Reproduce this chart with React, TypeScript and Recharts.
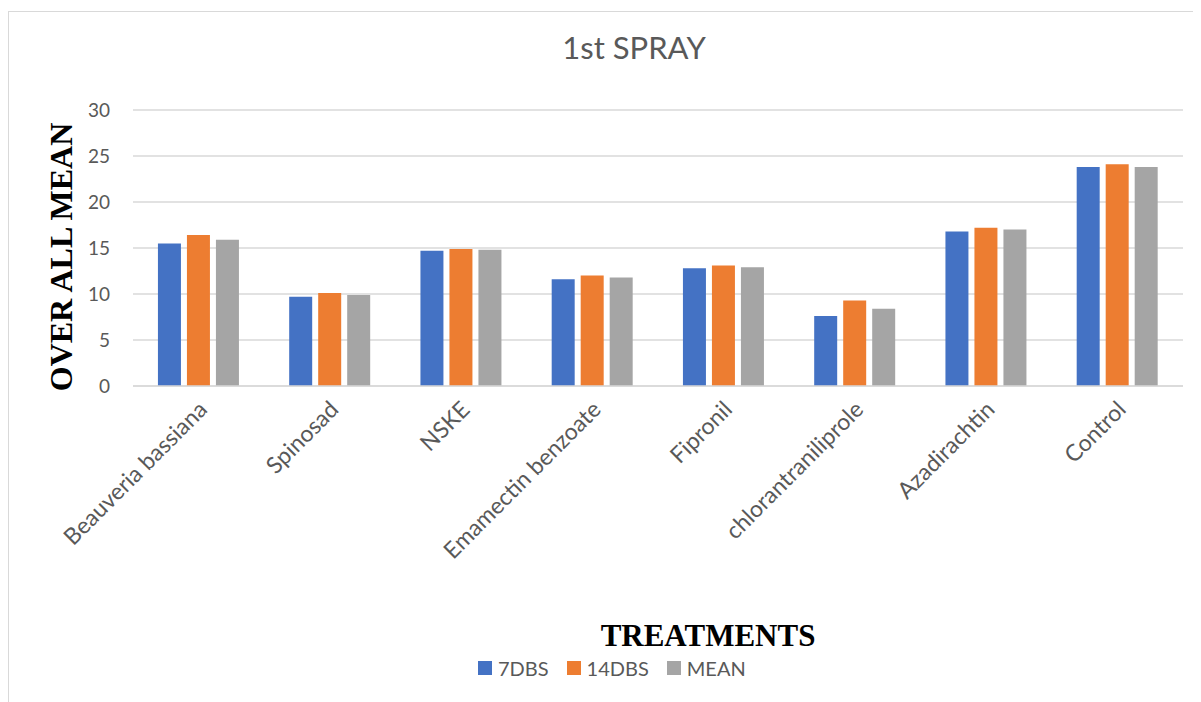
import React from 'react';
import {
  BarChart,
  Bar,
  XAxis,
  YAxis,
  CartesianGrid,
} from 'recharts';

const categories = [
  'Beauveria bassiana',
  'Spinosad',
  'NSKE',
  'Emamectin benzoate',
  'Fipronil',
  'chlorantraniliprole',
  'Azadirachtin',
  'Control',
];
const dbs7 = [15.5, 9.7, 14.7, 11.6, 12.8, 7.6, 16.8, 23.8];
const dbs14 = [16.4, 10.1, 14.9, 12.0, 13.1, 9.3, 17.2, 24.1];
const meanVals = [15.9, 9.9, 14.8, 11.8, 12.9, 8.4, 17.0, 23.8];
const yTicks = [0, 5, 10, 15, 20, 25, 30];
const seriesKeys = ['d7', 'd14', 'mean'];
const seriesNames = ['7DBS', '14DBS', 'MEAN'];
const seriesColors = ['#4472C4', '#ED7D31', '#A5A5A5'];

const data = categories.map((name, i) => ({
  name,
  d7: dbs7[i],
  d14: dbs14[i],
  mean: meanVals[i],
}));

const FONT = 'Lato, "Open Sans", sans-serif';
const SERIF = '"Liberation Serif", "DejaVu Serif", serif';

const CategoryTick = (props: any) => {
  const { x, y, payload } = props;
  const ax = x + 10;
  const ay = y + 25;
  return (
    <text
      x={ax}
      y={ay}
      textAnchor="end"
      transform={`rotate(-45, ${ax}, ${ay})`}
      fontSize={23}
      fontFamily={FONT}
      fill="#595959"
    >
      {payload.value}
    </text>
  );
};

const App: React.FC = () => {
  return (
    <div style={{ position: 'relative', width: 1193, height: 694 }}>
      {/* chart frame */}
      <div
        style={{
          position: 'absolute',
          left: 0,
          top: 3,
          width: 1200,
          height: 700,
          borderLeft: '1px solid #d9d9d9',
          borderTop: '1px solid #d9d9d9',
        }}
      />
      <BarChart
        width={1193}
        height={694}
        data={data}
        margin={{ top: 102, right: 18, left: 75, bottom: 256 }}
        barCategoryGap="19%"
        barGap={6}
      >
        <CartesianGrid vertical={false} stroke="#d9d9d9" strokeWidth={1.3} />
        <XAxis
          dataKey="name"
          interval={0}
          height={60}
          tickLine={false}
          tickSize={0}
          tickMargin={0}
          axisLine={{ stroke: '#d9d9d9', strokeWidth: 1.3 }}
          tick={<CategoryTick />}
        />
        <YAxis
          width={50}
          domain={[0, 30]}
          ticks={yTicks}
          axisLine={false}
          tickLine={false}
          tickSize={0}
          tickMargin={23}
          tick={{ fontSize: 19, fontFamily: FONT, fill: '#595959' }}
        />
        {seriesKeys.map((k, i) => (
          <Bar
            key={k}
            dataKey={k}
            name={seriesNames[i]}
            fill={seriesColors[i]}
            isAnimationActive={false}
          />
        ))}
      </BarChart>

      <svg
        width={1193}
        height={694}
        style={{ position: 'absolute', left: 0, top: 0, pointerEvents: 'none' }}
      >
        <text
          x={626}
          y={51}
          textAnchor="middle"
          fontSize={31}
          fontFamily={FONT}
          fill="#595959"
        >
          1st SPRAY
        </text>
        <text
          x={64}
          y={249}
          textAnchor="middle"
          transform="rotate(-90, 64, 249)"
          fontSize={32}
          fontWeight="bold"
          fontFamily={SERIF}
          fill="#000"
        >
          OVER ALL MEAN
        </text>
        <text
          x={700}
          y={638}
          textAnchor="middle"
          fontSize={31}
          fontWeight="bold"
          fontFamily={SERIF}
          fill="#000"
        >
          TREATMENTS
        </text>
      </svg>

      <div
        style={{
          position: 'absolute',
          left: 470,
          top: 650,
          display: 'flex',
          alignItems: 'center',
          fontFamily: FONT,
          fontSize: 20,
          lineHeight: '20px',
          color: '#595959',
        }}
      >
        {seriesNames.map((n, i) => (
          <div key={n} style={{ display: 'flex', alignItems: 'center', marginRight: 18 }}>
            <span
              style={{
                display: 'inline-block',
                width: 14,
                height: 14,
                background: seriesColors[i],
                marginRight: 6,
              }}
            />
            <span>{n}</span>
          </div>
        ))}
      </div>
    </div>
  );
};

export default App;
